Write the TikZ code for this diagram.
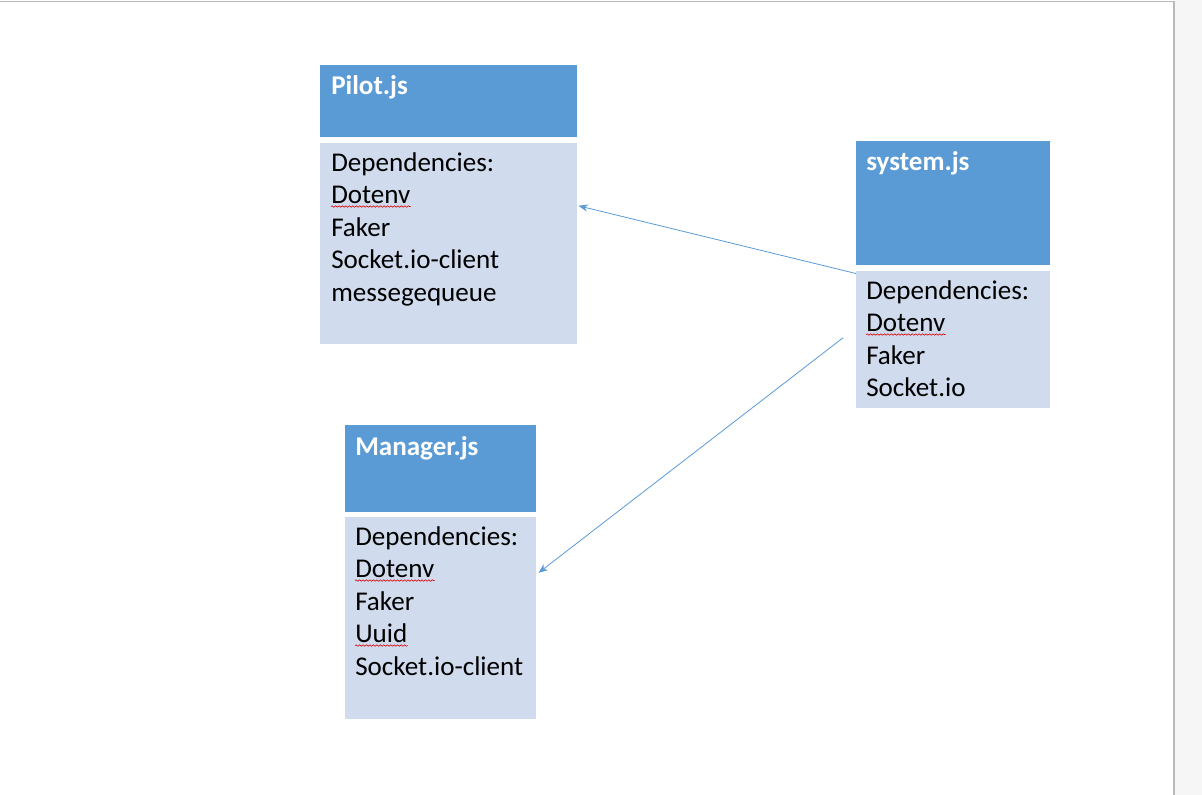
\documentclass[tikz,border=0pt]{standalone}
\usepackage{fontspec}
\setmainfont{Carlito}
\usepackage{tikz}
\usetikzlibrary{positioning, arrows.meta, decorations.pathmorphing}

\definecolor{hdrblue}{RGB}{91,155,213}
\definecolor{depblue}{RGB}{208,220,238}
\definecolor{linkblue}{RGB}{91,155,213}

\tikzset{
	hdr/.style={rectangle, fill=hdrblue, inner sep=0, anchor=north west},
	depbox/.style={rectangle, fill=depblue, inner sep=0},
	title/.style={anchor=base west, inner sep=0, text=white, font=\bfseries\fontsize{20.3}{24.4}\selectfont},
	dep/.style={anchor=base west, inner sep=0, font=\fontsize{20.3}{24.4}\selectfont},
	squig/.style={draw=red!85!black, line width=0.45pt, decorate, decoration={snake, amplitude=0.55pt, segment length=2.6pt}},
	link/.style={draw=linkblue, line width=0.6pt, -{Stealth[length=7pt, width=5.5pt]}}
}

\begin{document}
\begin{tikzpicture}[x=0.75pt, y=-0.75pt]
	\useasboundingbox (0,0) rectangle (1202,795);
	\fill[white] (0,0) rectangle (1202,795);
	\fill[gray!7] (1174,0) rectangle (1202,795);
	\draw[gray!55, line width=1.2pt] (0,1.5) -- (1174,1.5) -- (1174,795);
	
	% Pilot.js
	\node[hdr, minimum width=192.75pt, minimum height=54pt] (pilot) at (320,65) {};
	\node[depbox, minimum width=192.75pt, minimum height=150.75pt, below=3.75pt of pilot.south west, anchor=north west] (pilotdeps) {};
	\node[title] (pilot-t) at ([shift={(11,30)}]pilot.north west) {Pilot.js};
	\foreach \t [count=\i] in {Dependencies:, Dotenv, Faker, Socket.io-client, messegequeue}
		\node[dep] (pilot-\i) at ([shift={(11,{28.5+32.5*(\i-1)})}]pilotdeps.north west) {\t};
	
	% system.js
	\node[hdr, minimum width=145.5pt, minimum height=93pt] (system) at (856,141) {};
	\node[depbox, minimum width=145.5pt, minimum height=102.75pt, below=3.75pt of system.south west, anchor=north west] (systemdeps) {};
	\node[title] (system-t) at ([shift={(10,30)}]system.north west) {system.js};
	\foreach \t [count=\i] in {Dependencies:, Dotenv, Faker, Socket.io}
		\node[dep] (system-\i) at ([shift={(10,{28.5+32.5*(\i-1)})}]systemdeps.north west) {\t};
	
	% Manager.js
	\node[hdr, minimum width=143.25pt, minimum height=65.25pt] (manager) at (345,425) {};
	\node[depbox, minimum width=143.25pt, minimum height=151.5pt, below=3pt of manager.south west, anchor=north west] (managerdeps) {};
	\node[title] (manager-t) at ([shift={(10,30)}]manager.north west) {Manager.js};
	\foreach \t [count=\i] in {Dependencies:, Dotenv, Faker, Uuid, Socket.io-client}
		\node[dep] (manager-\i) at ([shift={(10,{28.5+32.5*(\i-1)})}]managerdeps.north west) {\t};
	
	% spelling marks
	\draw[squig] ([shift={(0,3)}]pilot-2.base west) -- ([shift={(0,3)}]pilot-2.base east);
	\draw[squig] ([shift={(0,3)}]system-2.base west) -- ([shift={(0,3)}]system-2.base east);
	\draw[squig] ([shift={(0,3)}]manager-2.base west) -- ([shift={(0,3)}]manager-2.base east);
	\draw[squig] ([shift={(0,3)}]manager-4.base west) -- ([shift={(0,3)}]manager-4.base east);
	
	% links
	\draw[link] ([shift={(0,3)}]systemdeps.north west) -- ([shift={(1,-37.5)}]pilotdeps.east);
	\draw[link] ([shift={(-13,-1.5)}]systemdeps.west) -- ([shift={(2,-45)}]managerdeps.east);
\end{tikzpicture}
\end{document}
